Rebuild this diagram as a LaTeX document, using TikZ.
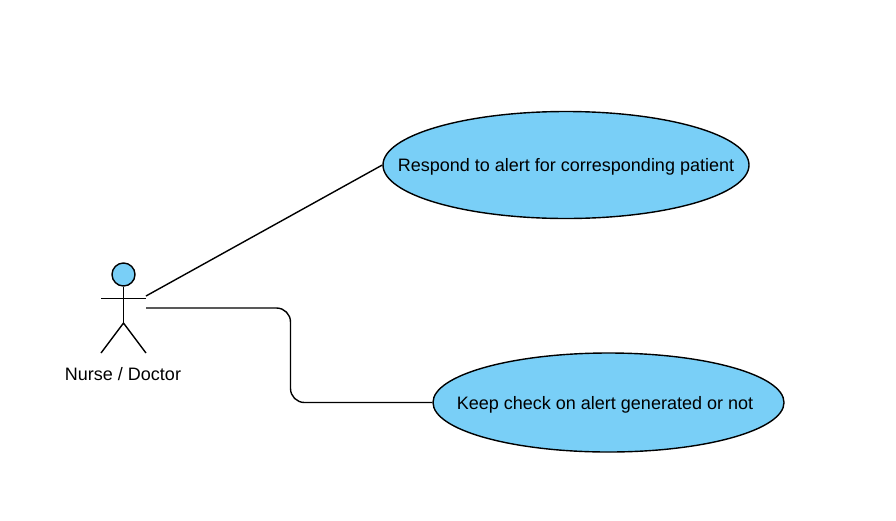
\documentclass[tikz,border=0pt]{standalone}
\usepackage{fontspec}
\setmainfont{Liberation Sans}
\usetikzlibrary{shapes.geometric, positioning}
\definecolor{usecaseblue}{HTML}{79CFF7}
\tikzstyle{usecase} = [draw=black, fill=usecaseblue, ellipse, line width=1.4pt, inner xsep=-50pt, inner ysep=-10pt, text height=17pt, text depth=4pt, font=\fontsize{18pt}{21pt}\selectfont]
\tikzstyle{limb} = [draw=black, line width=1.4pt]
\begin{document}
\begin{tikzpicture}[x=1pt,y=-1pt]
	\useasboundingbox (0,0) rectangle (896,520);
	% use cases
	\node [usecase, minimum width=366pt, minimum height=107pt] (respond) at (566,165) {Respond to alert for corresponding patient};
	\node [usecase, minimum width=351pt, minimum height=99pt] (keep) at (608.5,402.5) {\hspace*{-7pt}Keep check on alert generated or not};
	% actor
	\node [draw=black, fill=usecaseblue, circle, line width=1.4pt, minimum size=23pt, inner sep=0pt] (head) at (123.5,274.5) {};
	\coordinate (hip) at (123.5,323);
	\coordinate (armL) at (101,298.5);
	\coordinate (armR) at (146,298.5);
	\coordinate (footL) at (101,353);
	\coordinate (footR) at (146,353);
	\coordinate (actorT) at (146,296);
	\coordinate (actorR) at (146,308);
	\draw [limb] (head.south) -- (hip);
	\draw [limb] (armL) -- (armR);
	\draw [limb] (footL) -- (hip) -- (footR);
	\node [font=\fontsize{18pt}{21pt}\selectfont] (name) at (123,374.5) {Nurse / Doctor};
	% associations
	\draw [limb] (actorT) -- (respond.west);
	\draw [limb, rounded corners=14pt] (actorR) -| (290.5,402.5) -- (keep.west);
\end{tikzpicture}
\end{document}
